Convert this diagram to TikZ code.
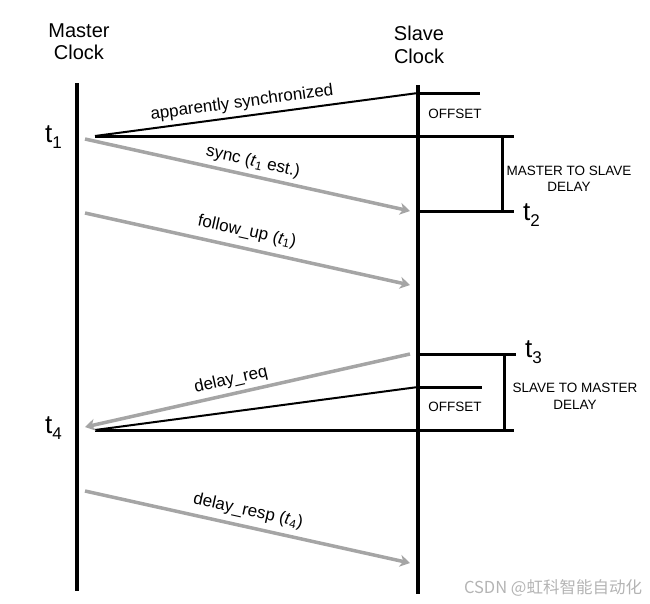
\documentclass[tikz,border=0pt]{standalone}
\usepackage{fontspec}
\setmainfont{Liberation Sans}
\newfontfamily\cjk{Noto Sans CJK SC}
\usetikzlibrary{arrows.meta}
\definecolor{arrowgray}{RGB}{165,165,165}
\definecolor{markgray}{RGB}{180,180,180}
\begin{document}
\begin{tikzpicture}[x=1pt,y=-1pt,
  clockline/.style={line width=4pt},
  timeline/.style={line width=3pt},
  thinline/.style={line width=2pt},
  msg/.style={line width=3.5pt, draw=arrowgray, -{Stealth[length=10pt,width=12pt,inset=3pt]}},
  clocktxt/.style={font=\fontsize{20}{22}\selectfont, inner sep=0pt, anchor=base},
  msgtxt/.style={font=\fontsize{17}{19}\selectfont, inner sep=0pt},
  captxt/.style={font=\fontsize{13.5}{16}\selectfont, inner sep=0pt},
  tlabel/.style={inner sep=0pt, anchor=base west, font=\fontsize{26}{26}\selectfont}
]
\useasboundingbox (0,0) rectangle (650,603);
\newcommand{\tsub}[1]{t\raisebox{-6pt}{\fontsize{17}{17}\selectfont #1}}
\newcommand{\msub}[1]{\textit{t}\textsubscript{#1}}

% clock headings
\node[clocktxt] (m1) at (79,37) {Master};
\node[clocktxt] (m2) at (79,59) {Clock};
\node[clocktxt] (s1) at (419,40) {Slave};
\node[clocktxt] (s2) at (419,63) {Clock};

% clock lines
\coordinate (mtop) at (77,83);
\coordinate (mbot) at (77,591);
\coordinate (stop) at (418,85);
\coordinate (sbot) at (418,594);
\draw[clockline] (mtop) -- (mbot);
\draw[clockline] (stop) -- (sbot);

% upper part
\coordinate (a1) at (95,136);
\coordinate (o1) at (418,93);
\coordinate (o1e) at (480,93);
\coordinate (t1e) at (514,136);
\coordinate (b1a) at (502,136);
\coordinate (b1b) at (502,211);
\coordinate (t2s) at (418,211);
\coordinate (t2e) at (514,211);
\draw[thinline] (a1) -- (o1);
\draw[timeline] (o1) -- (o1e);
\draw[timeline] (a1) -- (t1e);
\draw[timeline] (b1a) -- (b1b);
\draw[timeline] (t2s) -- (t2e);

\coordinate (sy1) at (85,139);
\coordinate (sy2) at (410,211);
\coordinate (fu1) at (85,213);
\coordinate (fu2) at (410,285);
\draw[msg] (sy1) -- (sy2);
\draw[msg] (fu1) -- (fu2);

\node[msgtxt, rotate=7.6] (lapp) at (242,103) {apparently synchronized};
\node[msgtxt, rotate=-12.5] (lsync) at (253,162) {sync (\msub{1} est.)};
\node[msgtxt, rotate=-12.5] (lfu) at (247,232) {follow\_up (\msub{1})};

\node[captxt] (off1) at (455,114) {OFFSET};
\node[captxt] (ms1) at (569,171) {MASTER TO SLAVE};
\node[captxt] (ms2) at (569,187) {DELAY};

\node[tlabel] (lt1) at (45,142) {\tsub{1}};
\node[tlabel] (lt2) at (523,220) {\tsub{2}};

% lower part
\coordinate (t3s) at (418,354);
\coordinate (t3e) at (516,354);
\coordinate (b2a) at (504,354);
\coordinate (b2b) at (504,430);
\coordinate (a4) at (95,430);
\coordinate (o2) at (418,387);
\coordinate (o2e) at (482,387);
\coordinate (t4e) at (514,430);
\draw[timeline] (t3s) -- (t3e);
\draw[timeline] (b2a) -- (b2b);
\draw[thinline] (a4) -- (o2);
\draw[timeline] (o2) -- (o2e);
\draw[timeline] (a4) -- (t4e);

\coordinate (dq1) at (410,354);
\coordinate (dq2) at (85,427);
\coordinate (dr1) at (85,491);
\coordinate (dr2) at (410,563);
\draw[msg] (dq1) -- (dq2);
\draw[msg] (dr1) -- (dr2);

\node[msgtxt, rotate=12.7] (ldq) at (231,380) {delay\_req};
\node[msgtxt, rotate=-12.5] (ldr) at (248,511) {delay\_resp (\msub{4})};

\node[captxt] (off2) at (455,407) {OFFSET};
\node[captxt] (sm1) at (575,388) {SLAVE TO MASTER};
\node[captxt] (sm2) at (575,405) {DELAY};

\node[tlabel] (lt3) at (525,357) {\tsub{3}};
\node[tlabel] (lt4) at (45,433) {\tsub{4}};

% watermark
\node[inner sep=0pt, text=markgray, font=\cjk\fontsize{16.5}{16.5}\selectfont] (wm) at (553,588) {CSDN @虹科智能自动化};
\end{tikzpicture}
\end{document}
